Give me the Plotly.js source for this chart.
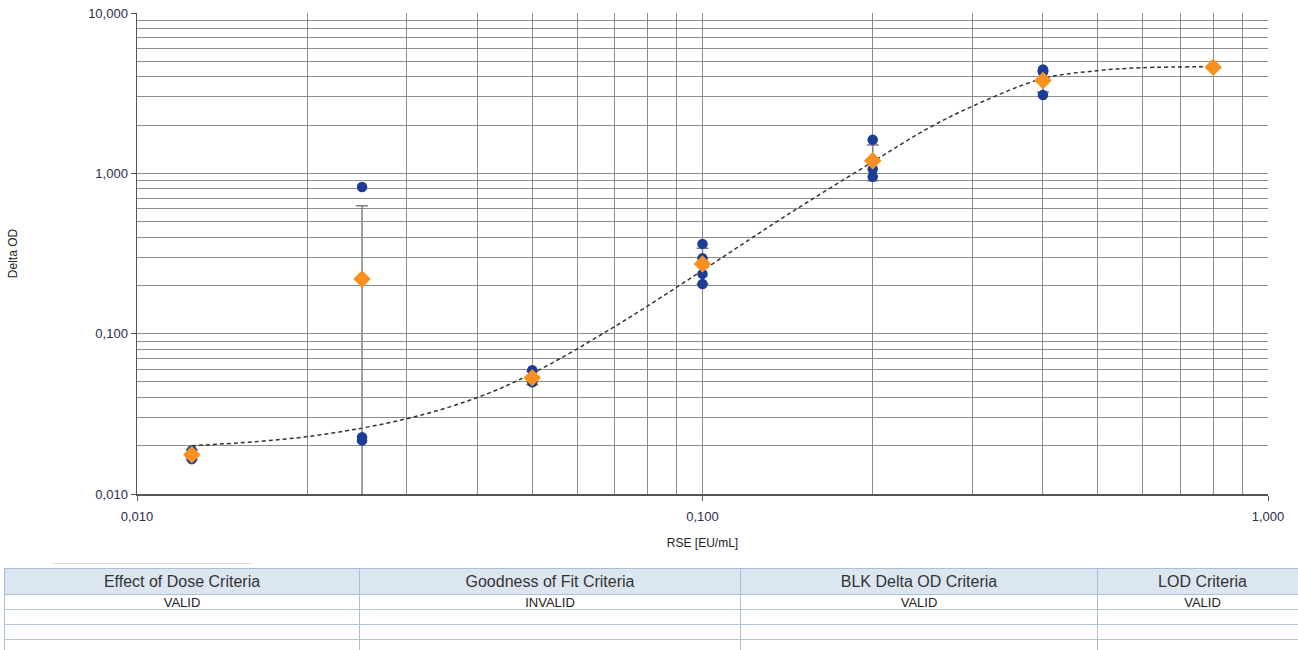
<!DOCTYPE html>
<html>
<head>
<meta charset="utf-8">
<script src="https://cdn.plot.ly/plotly-3.0.1.min.js"></script>
<style>
  html, body { margin: 0; padding: 0; background: #fff; width: 1298px; height: 650px; overflow: hidden; }
  #plot { position: absolute; left: 0; top: 0; width: 1298px; height: 650px; }
  #sep { position: absolute; left: 52px; top: 563px; width: 200px; height: 1px; background: #dcdcdc; }
  table#crit { position: absolute; left: 4px; top: 568px; width: 1303px; border-collapse: collapse; table-layout: fixed;
    font-family: "Liberation Sans", Arial, sans-serif; color: #222; }
  #crit th { background: #dbe6f1; font-weight: normal; font-size: 16px; height: 25px; padding: 0;
    border: 1px solid #a9bfd6; color: #333; }
  #crit td { font-size: 13px; padding: 0; text-align: center; border-left: 1px solid #a9bfd6; border-right: 1px solid #a9bfd6;
    border-bottom: 1px solid #b6c6d8; height: 14px; line-height: 13px; }
</style>
</head>
<body>
<div id="plot"></div>
<div id="sep"></div>
<table id="crit"></table>
<script>
// ---- Data ----
// Replicate measurements (blue circles)
const repX = [0.0125, 0.0125, 0.025, 0.025, 0.025, 0.05, 0.05, 0.05, 0.1, 0.1, 0.1, 0.1, 0.2, 0.2, 0.2, 0.4, 0.4, 0.4, 0.8, 0.8];
const repY = [0.0187, 0.0165, 0.822, 0.0226, 0.0216, 0.0592, 0.0505, 0.0498, 0.363, 0.295, 0.236, 0.204, 1.62, 1.06, 0.953, 4.45, 4.28, 3.08, 4.63, 4.55];

// Means (orange diamonds) and standard deviations (error bars)
const meanX = [0.0125, 0.025, 0.05, 0.1, 0.2, 0.4, 0.8];
const meanY = [0.0176, 0.219, 0.0531, 0.272, 1.20, 3.79, 4.59];
const sdY   = [0.0012, 0.408, 0.0050, 0.069, 0.30, 0.57, 0.04];

// Fitted curve
const fitX = [0.0125, 0.02, 0.03, 0.04, 0.05, 0.07, 0.1, 0.14, 0.2, 0.25, 0.3, 0.4, 0.5, 0.6, 0.8];
const fitY = [0.0200, 0.0228, 0.0295, 0.0400, 0.0565, 0.111, 0.248, 0.540, 1.18, 1.90, 2.62, 3.90, 4.37, 4.56, 4.62];

// Axis tick labels (decimal comma)
const xTickVals = [0.01, 0.1, 1];
const xTickText = ["0,010", "0,100", "1,000"];
const yTickVals = [0.01, 0.1, 1, 10];
const yTickText = ["0,010", "0,100", "1,000", "10,000"];

// Criteria table
const critHeaders = ["Effect of Dose Criteria", "Goodness of Fit Criteria", "BLK Delta OD Criteria", "LOD Criteria"];
const critRows = [["VALID", "INVALID", "VALID", "VALID"], ["", "", "", ""], ["", "", "", ""], ["", "", "", ""]];

// ---- minor gridline positions (2..9 within each decade) ----
function minorVals(lo, hi) {
  const v = [];
  for (let e = lo; e < hi; e++) for (let k = 2; k <= 9; k++) v.push(k * Math.pow(10, e));
  return v;
}

const BLUE = "#1d3c96", ORANGE = "#f7901e", GRID = "#8c8c8c";

const traces = [
  { x: fitX, y: fitY, type: "scatter", mode: "lines", line: { color: "#333", width: 1.5, dash: "4px,3px", shape: "spline", smoothing: 1 }, hoverinfo: "skip" },
  { x: meanX, y: meanY, type: "scatter", mode: "markers", marker: { size: 1, color: "rgba(0,0,0,0)" },
    error_y: { type: "data", array: sdY, visible: true, color: "#808080", thickness: 1.5, width: 6 } },
  { x: repX, y: repY, type: "scatter", mode: "markers", marker: { symbol: "circle", size: 10.5, color: BLUE } },
  { x: meanX, y: meanY, type: "scatter", mode: "markers", marker: { symbol: "diamond", size: 13.5, color: ORANGE } }
];

const axisFont = { family: "Liberation Sans, Arial, sans-serif", size: 13, color: "#2b2b4a" };

const layout = {
  width: 1298, height: 650,
  margin: { l: 137, r: 30, t: 13, b: 156 },
  paper_bgcolor: "#fff", plot_bgcolor: "#fff",
  showlegend: false,
  xaxis: {
    type: "log", range: [-2, 0], tickmode: "array", tickvals: xTickVals, ticktext: xTickText,
    showgrid: true, gridcolor: GRID, gridwidth: 1, zeroline: false,
    showline: true, linecolor: "#555", linewidth: 1.5, ticks: "outside", ticklen: 5, tickcolor: "#555",
    ticklabelstandoff: 5,
    minor: { tickmode: "array", tickvals: minorVals(-2, 0), showgrid: true, gridcolor: GRID, gridwidth: 1, ticks: "" },
    tickfont: axisFont,
    title: { text: "RSE [EU/mL]", font: { family: "Liberation Sans, Arial, sans-serif", size: 12, color: "#222" }, standoff: 15 }
  },
  yaxis: {
    type: "log", range: [-2, 1], tickmode: "array", tickvals: yTickVals, ticktext: yTickText,
    showgrid: true, gridcolor: GRID, gridwidth: 1, zeroline: false,
    showline: true, linecolor: "#555", linewidth: 1.5, ticks: "outside", ticklen: 5, tickcolor: "#555",
    minor: { tickmode: "array", tickvals: minorVals(-2, 1), showgrid: true, gridcolor: GRID, gridwidth: 1, ticks: "" },
    tickfont: axisFont,
    title: { text: "Delta OD", font: { family: "Liberation Sans, Arial, sans-serif", size: 12, color: "#222" }, standoff: 68 }
  }
};

Plotly.newPlot("plot", traces, layout, { displayModeBar: false, staticPlot: true });

// build table
const colW = [355, 381, 357, 210];
const tbl = document.getElementById("crit");
let html = "<colgroup>" + colW.map(w => '<col style="width:' + w + 'px">').join("") + "</colgroup>";
html += "<tr>" + critHeaders.map(h => "<th>" + h + "</th>").join("") + "</tr>";
critRows.forEach(r => { html += "<tr>" + r.map(c => "<td>" + c + "</td>").join("") + "</tr>"; });
tbl.innerHTML = html;
</script>
</body>
</html>
